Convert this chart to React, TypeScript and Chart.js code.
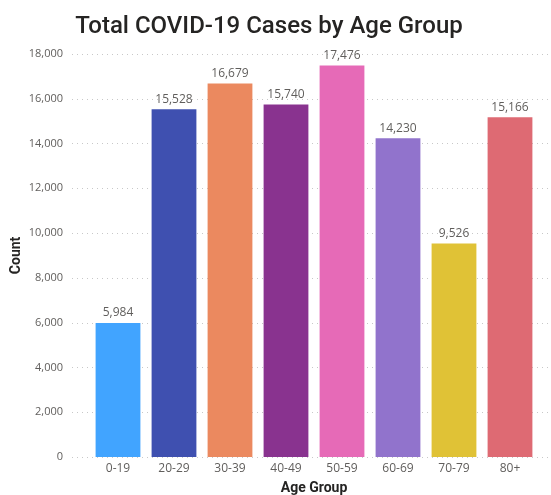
import React, { useEffect, useRef } from "react";
import { Chart, registerables } from "chart.js";

Chart.register(...registerables);

const categories = ["0-19", "20-29", "30-39", "40-49", "50-59", "60-69", "70-79", "80+"];
const counts = [5984, 15528, 16679, 15740, 17476, 14230, 9526, 15166];
const barColors = ["#41A4FF", "#3F50B0", "#EB895F", "#89338F", "#E66AB7", "#9173CC", "#E0C236", "#DE6A73"];
const yTicks = [0, 2000, 4000, 6000, 8000, 10000, 12000, 14000, 16000, 18000];

const fmt = (v: number) => v.toLocaleString("en-US");

const gridPlugin = {
  id: "dotGrid",
  beforeDatasetsDraw(chart: any) {
    const { ctx, scales } = chart;
    const y = scales.y;
    ctx.save();
    ctx.strokeStyle = "#C8C8C8";
    ctx.lineWidth = 1;
    ctx.setLineDash([1, 4]);
    yTicks.forEach((t) => {
      const py = Math.round(y.getPixelForValue(t)) + 0.5;
      ctx.beginPath();
      ctx.moveTo(72, py);
      ctx.lineTo(chart.width, py);
      ctx.stroke();
    });
    ctx.restore();
  },
};

const labelPlugin = {
  id: "barLabels",
  afterDatasetsDraw(chart: any) {
    const { ctx } = chart;
    const meta = chart.getDatasetMeta(0);
    ctx.save();
    ctx.fillStyle = "#605E5C";
    ctx.font = "12px 'Open Sans'";
    ctx.textAlign = "center";
    ctx.textBaseline = "bottom";
    meta.data.forEach((bar: any, i: number) => {
      ctx.fillText(fmt(counts[i]), bar.x, bar.y - 4);
    });
    ctx.restore();
  },
};

export default function App() {
  const ref = useRef<HTMLCanvasElement>(null);
  useEffect(() => {
    document.body.style.margin = "0";
    const chart = new Chart(ref.current!, {
      type: "bar",
      data: {
        labels: categories,
        datasets: [
          {
            data: counts,
            backgroundColor: barColors,
            borderWidth: 0,
            barPercentage: 0.8,
            categoryPercentage: 1,
          },
        ],
      },
      plugins: [gridPlugin, labelPlugin],
      options: {
        animation: false,
        responsive: false,
        layout: { padding: { right: 13, top: 0, bottom: 0, left: 0 } },
        plugins: {
          legend: { display: false },
          tooltip: { enabled: false },
          title: {
            display: true,
            text: "Total COVID-19 Cases by Age Group",
            color: "#252423",
            font: { family: "Roboto", size: 24, weight: "500" },
            padding: { top: 13, bottom: 12 },
          },
        },
        scales: {
          x: {
            afterFit: (s: any) => {
              s.height = 38;
            },
            grid: { display: false, drawTicks: false },
            border: { display: false },
            ticks: { color: "#605E5C", font: { family: "Open Sans", size: 12 }, padding: 4 },
            title: {
              display: true,
              text: "Age Group",
              color: "#252423",
              font: { family: "Roboto", size: 14, weight: "bold" },
              padding: { top: 0, bottom: -2 },
            },
          },
          y: {
            min: 0,
            max: 18000,
            afterFit: (s: any) => {
              s.width = 90;
            },
            afterBuildTicks: (s: any) => {
              s.ticks = yTicks.map((v) => ({ value: v }));
            },
            grid: { display: false, drawTicks: false },
            border: { display: false },
            ticks: {
              color: "#605E5C",
              font: { family: "Open Sans", size: 11 },
              padding: 27,
              callback: (v: any) => fmt(Number(v)),
            },
            title: {
              display: true,
              text: "Count",
              color: "#252423",
              font: { family: "Roboto", size: 14, weight: "bold" },
              padding: { top: 8, bottom: 0 },
            },
          },
        },
      },
    });
    return () => chart.destroy();
  }, []);
  return <canvas ref={ref} width={551} height={495} />;
}
